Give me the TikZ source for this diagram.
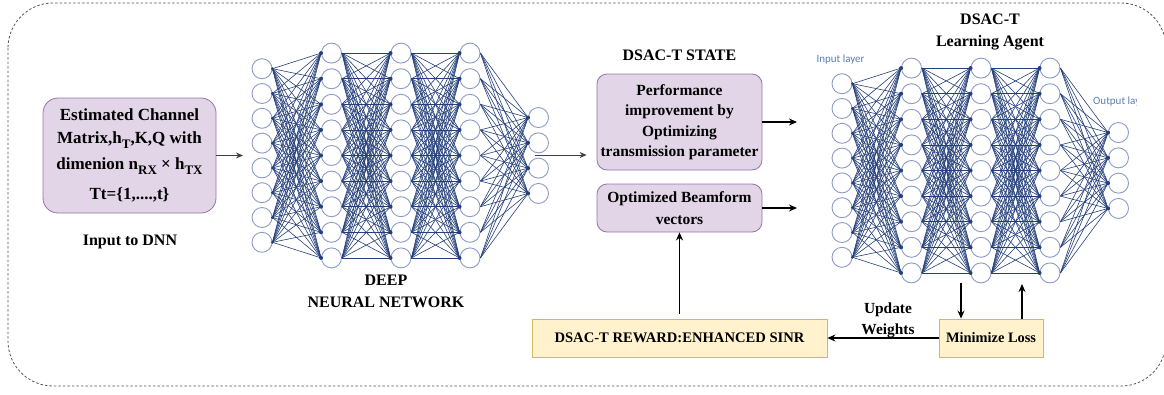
\documentclass[tikz,border=0pt]{standalone}
\usepackage{fontspec}
\setmainfont{Liberation Serif}
\newfontfamily\labelsans{Carlito}
\usetikzlibrary{arrows.meta}

\definecolor{boxpurple}{HTML}{E1D5E7}
\definecolor{boxpurpleline}{HTML}{9673A6}
\definecolor{boxyellow}{HTML}{FFF2CC}
\definecolor{boxyellowline}{HTML}{D6B656}
\definecolor{neuronline}{HTML}{8C9CC6}
\definecolor{synapsecol}{HTML}{243F7A}
\definecolor{layerlabel}{HTML}{5B7DB1}
\definecolor{framecol}{HTML}{555555}

% lowered bold index as used in the channel description
\newcommand\lowidx[1]{\raisebox{-4.5pt}{\fontsize{13}{13}\selectfont #1}}

\tikzset{
  neuron/.style={circle, draw=neuronline, fill=white, line width=0.9pt,
    minimum size=20pt, inner sep=0pt},
  synapse/.style={draw=synapsecol, line width=0.6pt},
  purplebox/.style={draw=boxpurpleline, fill=boxpurple, line width=0.8pt,
    rounded corners=10pt, align=center, inner sep=0pt},
  yellowbox/.style={draw=boxyellowline, fill=boxyellow, line width=0.8pt,
    align=center, inner sep=0pt},
  title/.style={font=\fontsize{16}{19}\selectfont\bfseries, align=center, inner sep=0pt},
  arr/.style={draw=black, line width=1.3pt, -{Stealth[length=8pt,width=7pt]}},
  grayarr/.style={draw=black!75, line width=1pt, -{Stealth[length=7pt,width=6pt]}},
}

% fully connected network: #1 name prefix, #2 x of first layer, #3 y of centre line
\newcommand\neuralnet[3]{%
  \foreach \lay/\cnt/\gap/\xo in {1/8/24.8/0, 2/9/25.6/69.5, 3/9/25.6/139, 4/9/25.6/208, 5/4/25.3/276.5} {
    \foreach \k in {1,...,\cnt} {
      \node[neuron] (#1-\lay-\k) at ({#2+\xo}, {#3+(\k-(\cnt+1)/2)*\gap}) {};
    }
  }
  \foreach \lay/\cnt/\nxt/\ncnt in {1/8/2/9, 2/9/3/9, 3/9/4/9, 4/9/5/4} {
    \foreach \k in {1,...,\cnt} {
      \foreach \j in {1,...,\ncnt} {
        \draw[synapse] (#1-\lay-\k.east) -- (#1-\nxt-\j.west);
      }
    }
    \foreach \j in {1,...,\ncnt} {
      \fill[synapsecol] (#1-\nxt-\j.west) circle (2);
    }
  }
  \foreach \k in {1,...,8} {
    \fill[synapsecol] (#1-1-\k.east) circle (1.6);
  }
}

\begin{document}
\begin{tikzpicture}[x=1pt, y=-1pt]
\useasboundingbox (0,0) rectangle (1164,394);
\clip (0,0) rectangle (1164,394);

% dashed frame round the whole system
\draw[framecol, line width=0.8pt, dash pattern=on 2.5pt off 2pt, rounded corners=45pt]
  (8,3) rectangle (1166,386);

% ---------- input ----------
\node[purplebox, rounded corners=15pt, minimum width=173pt, minimum height=115pt,
      font=\fontsize{17}{23}\selectfont\bfseries] (input) at (129.5,155.5)
  {Estimated Channel\\ Matrix,h\lowidx{T},K,Q with\\[3pt]
   dimenion n\lowidx{RX} × h\lowidx{TX}\\[7pt] Tt=\{1,....,t\}};
\node[title] (inputlbl) at (130,242) {Input to DNN};

% ---------- deep neural network ----------
\neuralnet{dnn}{262}{155.5}
\node[title, font=\fontsize{16}{22}\selectfont\bfseries] (dnnlbl) at (386,291) {DEEP\\NEURAL NETWORK};
\coordinate (dnnin) at (243,155.5);
\coordinate (dnnout) at (535,155);

% ---------- DSAC-T state ----------
\node[title] (statelbl) at (679.5,55) {DSAC-T STATE};
\node[purplebox, minimum width=165pt, minimum height=96pt,
      font=\fontsize{15.5}{20.5}\selectfont\bfseries] (perf) at (679.5,122)
  {Performance\\ improvement by\\ Optimizing\\ transmission parameter};
\node[purplebox, minimum width=165pt, minimum height=48pt,
      font=\fontsize{15.5}{22}\selectfont\bfseries] (beam) at (679.5,208)
  {Optimized Beamform\\ vectors};

% ---------- learning agent ----------
\node[title, font=\fontsize{16}{22}\selectfont\bfseries] (agentlbl) at (990,32) {DSAC-T\\Learning Agent};
\neuralnet{agent}{842}{170.5}
\node[inner sep=0pt, text=layerlabel, font=\labelsans\fontsize{11}{12}\selectfont] (inlayer) at (840.5,60) {Input layer};
\begin{scope}
  \clip (1085,90) rectangle (1136,115);
  \node[inner sep=0pt, anchor=west, text=layerlabel, font=\labelsans\fontsize{11}{12}\selectfont] (outlayer) at (1093,102) {Output layer};
\end{scope}
\coordinate (agentin1) at (797,122);
\coordinate (agentin2) at (797,208);
\coordinate (agentdown) at (961,283);
\coordinate (agentup) at (1022,284);

% ---------- reward and loss ----------
\node[yellowbox, minimum width=295pt, minimum height=38pt,
      font=\fontsize{14.6}{17}\selectfont\bfseries] (reward) at (679.5,338)
  {DSAC-T REWARD:ENHANCED SINR};
\node[yellowbox, minimum width=104pt, minimum height=38pt,
      font=\fontsize{14.4}{17}\selectfont\bfseries] (loss) at (991,338)
  {Minimize Loss};
\node[title, font=\fontsize{15.4}{21}\selectfont\bfseries] (updlbl) at (888,320) {Update\\Weights};

% ---------- connectors ----------
\draw[grayarr] (input.east |- dnnin) -- (dnnin);
\draw[grayarr] (dnnout) -- ([xshift=-10pt]perf.west |- dnnout);
\draw[arr] (perf.east) -- (agentin1);
\draw[arr] (beam.east) -- (agentin2);
\draw[arr, shorten <=5pt] (reward.north) -- (beam.south);
\draw[arr] (loss.west) -- (reward.east);
\draw[arr] (agentdown) -- (agentdown |- loss.north);
\draw[arr] (agentup |- loss.north) -- (agentup);
\end{tikzpicture}
\end{document}
